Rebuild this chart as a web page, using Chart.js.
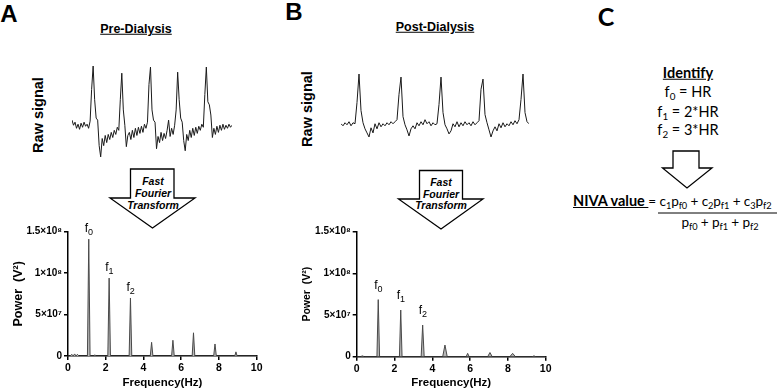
<!DOCTYPE html>
<html>
<head>
<meta charset="utf-8">
<script src="https://cdn.jsdelivr.net/npm/chart.js@4.4.0/dist/chart.umd.min.js"></script>
<style>
  html, body { margin: 0; padding: 0; background: #fff; }
  #fig { position: relative; width: 778px; height: 390px; overflow: hidden; font-family: "Liberation Sans", Arial, sans-serif; color: #000; }
  .t { position: absolute; white-space: nowrap; transform: translate(-50%, -50%); line-height: 1; }
  .rot { transform: translate(-50%, -50%) rotate(-90deg); }
  .fft { font-size: 10.5px; font-weight: bold; font-style: italic; }
  .c { font-family: Lato, "Open Sans", sans-serif; font-size: 14.5px; }
  .c sub { font-size: 0.68em; vertical-align: -0.3em; line-height: 0; }
  .frm { font-size: 13.6px; letter-spacing: -0.1px; }
  canvas { position: absolute; }
</style>
</head>
<body>
<div id="fig">
  <svg width="778" height="390" style="position:absolute;left:0;top:0">
    <g fill="#fff" stroke="#000" stroke-width="1.3">
      <polygon points="130.5,169 174,169 174,198 195,198 152.5,228 110,198 130.5,198"/>
      <polygon points="419.5,170.5 462.5,170.5 462.5,199 483,199 441,229 398.5,199 419.5,199"/>
      <polygon points="673,151 699,151 699,168 712,168 687,188 662.5,168 673,168"/>
    </g>
    <line x1="658" y1="213" x2="777" y2="213" stroke="#000" stroke-width="1"/>
  </svg>

  <canvas id="rawPreChart" width="160" height="99" style="left:72px;top:64px"></canvas>
  <canvas id="rawPostChart" width="188" height="68" style="left:341px;top:72px"></canvas>
  <canvas id="specPreChart" width="275" height="170" style="left:0px;top:220px"></canvas>
  <canvas id="specPostChart" width="275" height="170" style="left:290px;top:220px"></canvas>

  <div class="t" style="left:9px;top:14px;font-size:24px;font-weight:bold">A</div>
  <div class="t" style="left:294px;top:12px;font-size:24px;font-weight:bold">B</div>
  <div class="t c" style="left:606px;top:16px;font-size:25px;font-weight:bold">C</div>

  <div class="t" style="left:136px;top:29px;font-size:12.5px;font-weight:bold;text-decoration:underline">Pre-Dialysis</div>
  <div class="t" style="left:435px;top:27px;font-size:12.5px;font-weight:bold;text-decoration:underline">Post-Dialysis</div>

  <div class="t rot" style="left:38px;top:115px;font-size:14.5px;font-weight:bold">Raw signal</div>
  <div class="t rot" style="left:307px;top:109px;font-size:14.5px;font-weight:bold">Raw signal</div>

  <div class="t fft" style="left:153px;top:181px">Fast</div>
  <div class="t fft" style="left:153px;top:193px">Fourier</div>
  <div class="t fft" style="left:153px;top:205px">Transform</div>
  <div class="t fft" style="left:441px;top:182px">Fast</div>
  <div class="t fft" style="left:441px;top:194px">Fourier</div>
  <div class="t fft" style="left:441px;top:205px">Transform</div>

  <div class="t c" style="left:688px;top:73px;font-weight:bold;text-decoration:underline">Identify</div>
  <div class="t c" style="left:688px;top:92px">f<sub>0</sub> = HR</div>
  <div class="t c" style="left:688px;top:112px">f<sub>1</sub> = 2*HR</div>
  <div class="t c" style="left:688px;top:130px">f<sub>2</sub> = 3*HR</div>
  <div class="c" style="position:absolute;left:573px;top:194px;white-space:nowrap;line-height:1"><b><u>NIVA value </u></b><span class="frm">= c<sub>1</sub>p<sub>f0</sub> + c<sub>2</sub>p<sub>f1</sub> + c<sub>3</sub>p<sub>f2</sub></span></div>
  <div class="t c frm" style="left:720px;top:223px">p<sub>f0</sub> + p<sub>f1</sub> + p<sub>f2</sub></div>
</div>

<script>
// raw signal traces (pixel-ish units above baseline)
const rawPre = [
  10, 5, 8, 2, 6, 1, 7, 3, 8, 4, 6, 2, 9,
  40, 63, 30, 12, 10, -15, -26, -8, -15, -5, -12, -4, -9, -2, -7, 0, -4, 3, 0,
  30, 56, 20, 5, -16, -5, -2, -9, 0, -7, 2, -5, 3, -3, 4, -2, 6, 2, 8,
  45, 62, 20, 10, 8, -18, -6, -12, -2, -10, -3, -8, 0, 10, -6, 2, -4, 5,
  20, 57, 30, 12, 8, -10, -20, -4, -10, 0, -7, 2, -5, 3, -3, 4, 0, 6, 3,
  35, 62, 28, 25, 15, -7, 2, -4, 4, -2, 5, 0, 6, 1, 5, 2, 6, 3, 5
];
const rawPost = [
  1, -1, 2, 0, 3, -1, 2, 1, 22, 50, 14, 2, -4, -8, -12, -3, -8, 1, -4, 2,
  -2, 1, -1, 2, 0, 3, 1, 3, 5, 30, 47, 8, 0, -5, -11, -4, -1, -4, 2, -1,
  3, 0, 5, 1, 3, -1, 2, 0, 1, 20, 47, 12, 0, -4, -9, -6, 1, -2, 3, -2,
  2, -1, 3, 0, 2, -1, 3, 0, 2, 4, 35, 45, 10, 2, -5, -12, -6, -2, -6, 1,
  -3, 2, -2, 1, -1, 3, 0, 4, 1, 5, 25, 50, 12, 3, 1
];

// FFT power spectra: peak frequency (Hz), peak power (V^2), base half-width (Hz)
const peakFreqPre = [0.2, 0.35, 0.5, 1.1, 1.42, 2.18, 3.31, 4.43, 5.56, 6.65, 7.79, 8.9];
const peakPowPre = [0.2e7, 0.25e7, 0.2e7, 14.1e7, 0.15e7, 9.4e7, 7.0e7, 1.65e7, 1.9e7, 2.8e7, 1.45e7, 0.5e7];
const peakWidthPre = [0.08, 0.08, 0.08, 0.07, 0.05, 0.07, 0.07, 0.07, 0.07, 0.07, 0.07, 0.06];
const harmonicIdxPre = [3, 5, 6];

const peakFreqPost = [0.3, 1.14, 2.33, 3.49, 4.67, 5.87, 7.05, 8.25, 9.38];
const peakPowPost = [0.1e7, 6.85e7, 5.6e7, 3.8e7, 1.4e7, 0.4e7, 0.5e7, 0.4e7, 0.1e7];
const peakWidthPost = [0.1, 0.07, 0.07, 0.08, 0.12, 0.08, 0.12, 0.15, 0.1];
const harmonicIdxPost = [1, 2, 3];

const harmonicNames = ['0', '1', '2'];
const yTickValues = [0, 5e7, 1e8, 1.5e8];
const yTickLabels = ['0', '5×10⁷', '1×10⁸', '1.5×10⁸'];

Chart.defaults.font.family = '"Liberation Sans", Arial, sans-serif';
Chart.defaults.color = '#000';

// f0 / f1 / f2 labels over the harmonic peaks
const peakLabels = {
    id: 'peakLabels',
    afterDatasetsDraw(chart, args, opts) {
        const { ctx, scales: { x, y } } = chart;
        ctx.save();
        ctx.fillStyle = '#000';
        ctx.textBaseline = 'alphabetic';
        ctx.textAlign = 'left';
        opts.items.forEach(p => {
            const px = x.getPixelForValue(p.freq) - 4;
            const py = y.getPixelForValue(p.pow) - opts.lift;
            ctx.font = opts.size + 'px "Liberation Sans"';
            ctx.fillText('f', px, py);
            const w = ctx.measureText('f').width;
            ctx.font = Math.round(opts.size * 0.75) + 'px "Liberation Sans"';
            ctx.fillText(p.sub, px + w, py + 3);
        });
        ctx.restore();
    }
};

function rawChart(id, values, yMin, yMax) {
    new Chart(document.getElementById(id), {
        type: 'line',
        data: {
            labels: values.map((v, i) => i),
            datasets: [{ data: values, borderColor: '#1a1a1a', borderWidth: 1, pointRadius: 0, tension: 0, clip: false }]
        },
        options: {
            responsive: false,
            animation: false,
            layout: { padding: 0 },
            plugins: { legend: { display: false }, tooltip: { enabled: false } },
            scales: {
                x: { display: false, offset: false },
                y: { display: false, min: yMin, max: yMax }
            }
        }
    });
}

function spectrumChart(id, freqs, pows, widths, harmonicIdx, lay) {
    const pts = [{ x: 0, y: 0 }];
    freqs.forEach((f, i) => {
        pts.push({ x: f - widths[i], y: 0 }, { x: f, y: pows[i] }, { x: f + widths[i], y: 0 });
    });
    pts.push({ x: 10, y: 0 });

    const axisLine = { drawOnChartArea: false, tickLength: 4, color: '#000', lineWidth: 1.5 };
    new Chart(document.getElementById(id), {
        type: 'line',
        data: {
            datasets: [{
                data: pts,
                borderColor: '#4a4a4a',
                backgroundColor: '#b8b8b8',
                fill: 'origin',
                borderWidth: 1,
                pointRadius: 0,
                tension: 0
            }]
        },
        options: {
            responsive: false,
            animation: false,
            layout: { padding: { top: lay.top, right: lay.right, left: 0, bottom: 0 } },
            plugins: {
                legend: { display: false },
                tooltip: { enabled: false },
                peakLabels: {
                    items: harmonicIdx.map((k, j) => ({ freq: freqs[k], pow: pows[k], sub: harmonicNames[j] })),
                    lift: lay.lift,
                    size: 12
                }
            },
            scales: {
                x: {
                    type: 'linear', min: 0, max: 10,
                    ticks: { stepSize: 2, font: { size: 10.5, weight: 'bold' }, color: '#000', padding: 2 },
                    grid: axisLine,
                    border: { color: '#000', width: 1.5 },
                    title: { display: true, text: 'Frequency(Hz)', font: { size: 11.5, weight: 'bold' }, color: '#000', padding: { top: 0, bottom: 0 } },
                    afterFit: s => { s.height = lay.xh; }
                },
                y: {
                    min: 0, max: 1.5e8,
                    ticks: {
                        stepSize: 5e7,
                        font: { size: 10, weight: 'bold' },
                        color: '#000',
                        padding: 2,
                        callback: v => {
                            const i = yTickValues.indexOf(v);
                            return i >= 0 ? yTickLabels[i] : '';
                        }
                    },
                    grid: axisLine,
                    border: { color: '#000', width: 1.5 },
                    title: { display: true, text: 'Power  (V²)', font: { size: lay.ytSize, weight: 'bold' }, color: '#000', padding: { top: lay.ytPad, bottom: 0 } },
                    afterFit: s => { s.width = lay.yw; }
                }
            }
        },
        plugins: [peakLabels]
    });
}

rawChart('rawPreChart', rawPre, -32, 65);
rawChart('rawPostChart', rawPost, -15, 52);
spectrumChart('specPreChart', peakFreqPre, peakPowPre, peakWidthPre, harmonicIdxPre,
    { top: 11.7, right: 18.3, xh: 34, yw: 68, ytSize: 12.5, ytPad: 11, lift: 7 });
spectrumChart('specPostChart', peakFreqPost, peakPowPost, peakWidthPost, harmonicIdxPost,
    { top: 11.7, right: 19.3, xh: 33.3, yw: 66.7, ytSize: 10.5, ytPad: 11.2, lift: 11 });
</script>
</body>
</html>
